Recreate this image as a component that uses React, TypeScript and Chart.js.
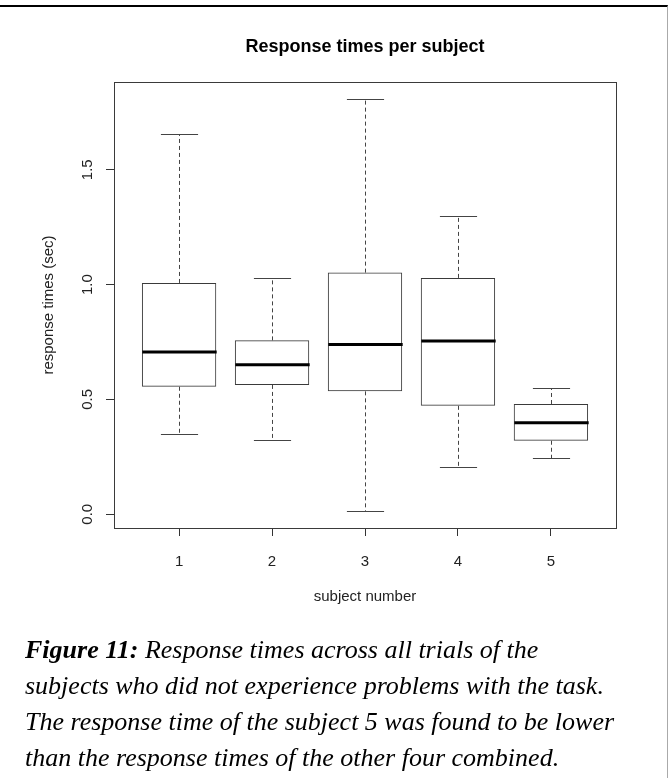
import React, { useEffect, useRef } from "react";
import { Chart, registerables } from "chart.js";

Chart.register(...registerables);

// ---- data ----
const subjects = [1, 2, 3, 4, 5];
const whiskerLow = [0.35, 0.324, 0.012, 0.204, 0.243];
const q1 = [0.555, 0.563, 0.535, 0.472, 0.32];
const median = [0.706, 0.651, 0.739, 0.754, 0.398];
const q3 = [1.007, 0.757, 1.052, 1.029, 0.48];
const whiskerHigh = [1.655, 1.029, 1.81, 1.299, 0.551];
const yTicks = [0, 0.5, 1.0, 1.5];

const chartTitle = "Response times per subject";
const xTitle = "subject number";
const yTitle = "response times (sec)";

// R-style axis extension (4%)
const yLo = Math.min(...whiskerLow);
const yHi = Math.max(...whiskerHigh);
const yPad = (yHi - yLo) * 0.04;
const xLo = subjects[0] - 0.5;
const xHi = subjects[subjects.length - 1] + 0.5;
const xPad = (xHi - xLo) * 0.04;

const SANS = '"Liberation Sans", Arial, Helvetica, sans-serif';
const CANVAS_W = 730;
const CANVAS_H = 620;

const boxPlugin = {
  id: "rbox",
  beforeDatasetsDraw(chart: any) {
    const { ctx, chartArea } = chart;
    ctx.save();
    ctx.strokeStyle = "#3a3a3a";
    ctx.lineWidth = 1;
    ctx.strokeRect(
      Math.round(chartArea.left) + 0.5,
      Math.round(chartArea.top) + 0.5,
      Math.round(chartArea.right - chartArea.left),
      Math.round(chartArea.bottom - chartArea.top)
    );
    ctx.restore();
  },
  afterDatasetsDraw(chart: any) {
    const { ctx } = chart;
    const xs = chart.scales.x;
    const ys = chart.scales.y;
    const meta = chart.getDatasetMeta(0);
    ctx.save();
    subjects.forEach((s, i) => {
      const x = Math.round(xs.getPixelForValue(s)) + 0.5;
      const bar = meta.data[i];
      const half = bar ? bar.width / 2 : 37;
      const yMin = Math.round(ys.getPixelForValue(whiskerLow[i])) + 0.5;
      const yMax = Math.round(ys.getPixelForValue(whiskerHigh[i])) + 0.5;
      const yQ1 = ys.getPixelForValue(q1[i]);
      const yQ3 = ys.getPixelForValue(q3[i]);
      const yMed = ys.getPixelForValue(median[i]);
      // whiskers (dashed)
      ctx.strokeStyle = "#444";
      ctx.lineWidth = 1;
      ctx.setLineDash([4, 3]);
      ctx.beginPath();
      ctx.moveTo(x, yQ3);
      ctx.lineTo(x, yMax);
      ctx.moveTo(x, yQ1);
      ctx.lineTo(x, yMin);
      ctx.stroke();
      // caps
      ctx.setLineDash([]);
      ctx.beginPath();
      ctx.moveTo(x - half / 2, yMax);
      ctx.lineTo(x + half / 2, yMax);
      ctx.moveTo(x - half / 2, yMin);
      ctx.lineTo(x + half / 2, yMin);
      ctx.stroke();
      // median
      ctx.strokeStyle = "#000";
      ctx.lineWidth = 3;
      ctx.beginPath();
      ctx.moveTo(x - half, yMed);
      ctx.lineTo(x + half, yMed);
      ctx.stroke();
    });
    ctx.restore();
  },
};

function BoxChart() {
  const ref = useRef<HTMLCanvasElement | null>(null);
  useEffect(() => {
    if (!ref.current) return;
    const chart = new Chart(ref.current, {
      type: "bar",
      data: {
        datasets: [
          {
            label: "IQR",
            data: subjects.map((s, i) => ({ x: s, y: [q1[i], q3[i]] })) as any,
            backgroundColor: "rgba(255,255,255,0)",
            borderColor: "#3a3a3a",
            borderWidth: 1,
            borderSkipped: false,
            barPercentage: 0.8,
            categoryPercentage: 1,
          },
        ],
      },
      options: {
        animation: false,
        responsive: false,
        maintainAspectRatio: false,
        events: [],
        layout: { padding: { left: 0, right: 0, top: 0, bottom: 0 } },
        plugins: {
          legend: { display: false },
          tooltip: { enabled: false },
          title: {
            display: true,
            text: chartTitle,
            color: "#000",
            font: { family: SANS, size: 18, weight: "bold" },
            padding: { top: 36, bottom: 24.4 },
          },
        },
        scales: {
          x: {
            type: "linear",
            offset: false,
            min: xLo - xPad,
            max: xHi + xPad,
            afterBuildTicks: (s: any) => {
              s.ticks = subjects.map((v) => ({ value: v }));
            },
            afterFit: (s: any) => {
              s.height = 92;
            },
            ticks: {
              color: "#222",
              font: { family: SANS, size: 15 },
              padding: 17,
              callback: (v: any) => String(v),
              maxRotation: 0,
              minRotation: 0,
            },
            grid: {
              display: true,
              offset: false,
              drawOnChartArea: false,
              drawTicks: true,
              tickLength: 8,
              color: "#333",
            },
            border: { display: false },
            title: {
              display: true,
              text: xTitle,
              color: "#222",
              font: { family: SANS, size: 15 },
              padding: { top: 0, bottom: 14 },
            },
          },
          y: {
            type: "linear",
            min: yLo - yPad,
            max: yHi + yPad,
            afterBuildTicks: (s: any) => {
              s.ticks = yTicks.map((v) => ({ value: v }));
            },
            afterFit: (s: any) => {
              s.width = 114;
            },
            ticks: {
              color: "#222",
              font: { family: SANS, size: 15 },
              padding: 7.5,
              crossAlign: "center",
              minRotation: 90,
              maxRotation: 90,
              callback: (v: any) => Number(v).toFixed(1),
            },
            grid: {
              display: true,
              drawOnChartArea: false,
              drawTicks: true,
              tickLength: 8,
              color: "#333",
            },
            border: { display: false },
            title: {
              display: true,
              text: yTitle,
              color: "#222",
              font: { family: SANS, size: 15 },
              padding: { top: 40, bottom: 0 },
            },
          },
          // empty right-hand margin (keeps the plot region centred under the title)
          yRight: {
            type: "linear",
            position: "right",
            display: true,
            afterFit: (s: any) => {
              s.width = CANVAS_W - 616;
            },
            ticks: { display: false },
            grid: { display: false, drawTicks: false },
            border: { display: false },
          },
        },
      },
      plugins: [boxPlugin],
    });
    return () => chart.destroy();
  }, []);
  return (
    <canvas
      ref={ref}
      width={CANVAS_W}
      height={CANVAS_H}
      style={{ position: "absolute", left: 0, top: 0, width: CANVAS_W, height: CANVAS_H }}
    />
  );
}

export default function App() {
  return (
    <div
      style={{
        position: "absolute",
        left: 0,
        top: 0,
        width: 668,
        height: 778,
        background: "#fff",
        overflow: "hidden",
      }}
    >
      <BoxChart />
      <div
        style={{
          position: "absolute",
          left: 0,
          top: 5,
          width: 668,
          height: 773,
          boxSizing: "border-box",
          borderTop: "2px solid #000",
          borderRight: "1px solid #aaa",
        }}
      />
      <div
        style={{
          position: "absolute",
          left: 25,
          top: 632,
          whiteSpace: "nowrap",
          fontFamily: '"Liberation Serif", "Times New Roman", serif',
          fontStyle: "italic",
          fontSize: 26,
          lineHeight: "36px",
          color: "#000",
        }}
      >
        <b>Figure 11:</b> Response times across all trials of the
        <br />
        subjects who did not experience problems with the task.
        <br />
        The response time of the subject 5 was found to be lower
        <br />
        than the response times of the other four combined.
      </div>
    </div>
  );
}
